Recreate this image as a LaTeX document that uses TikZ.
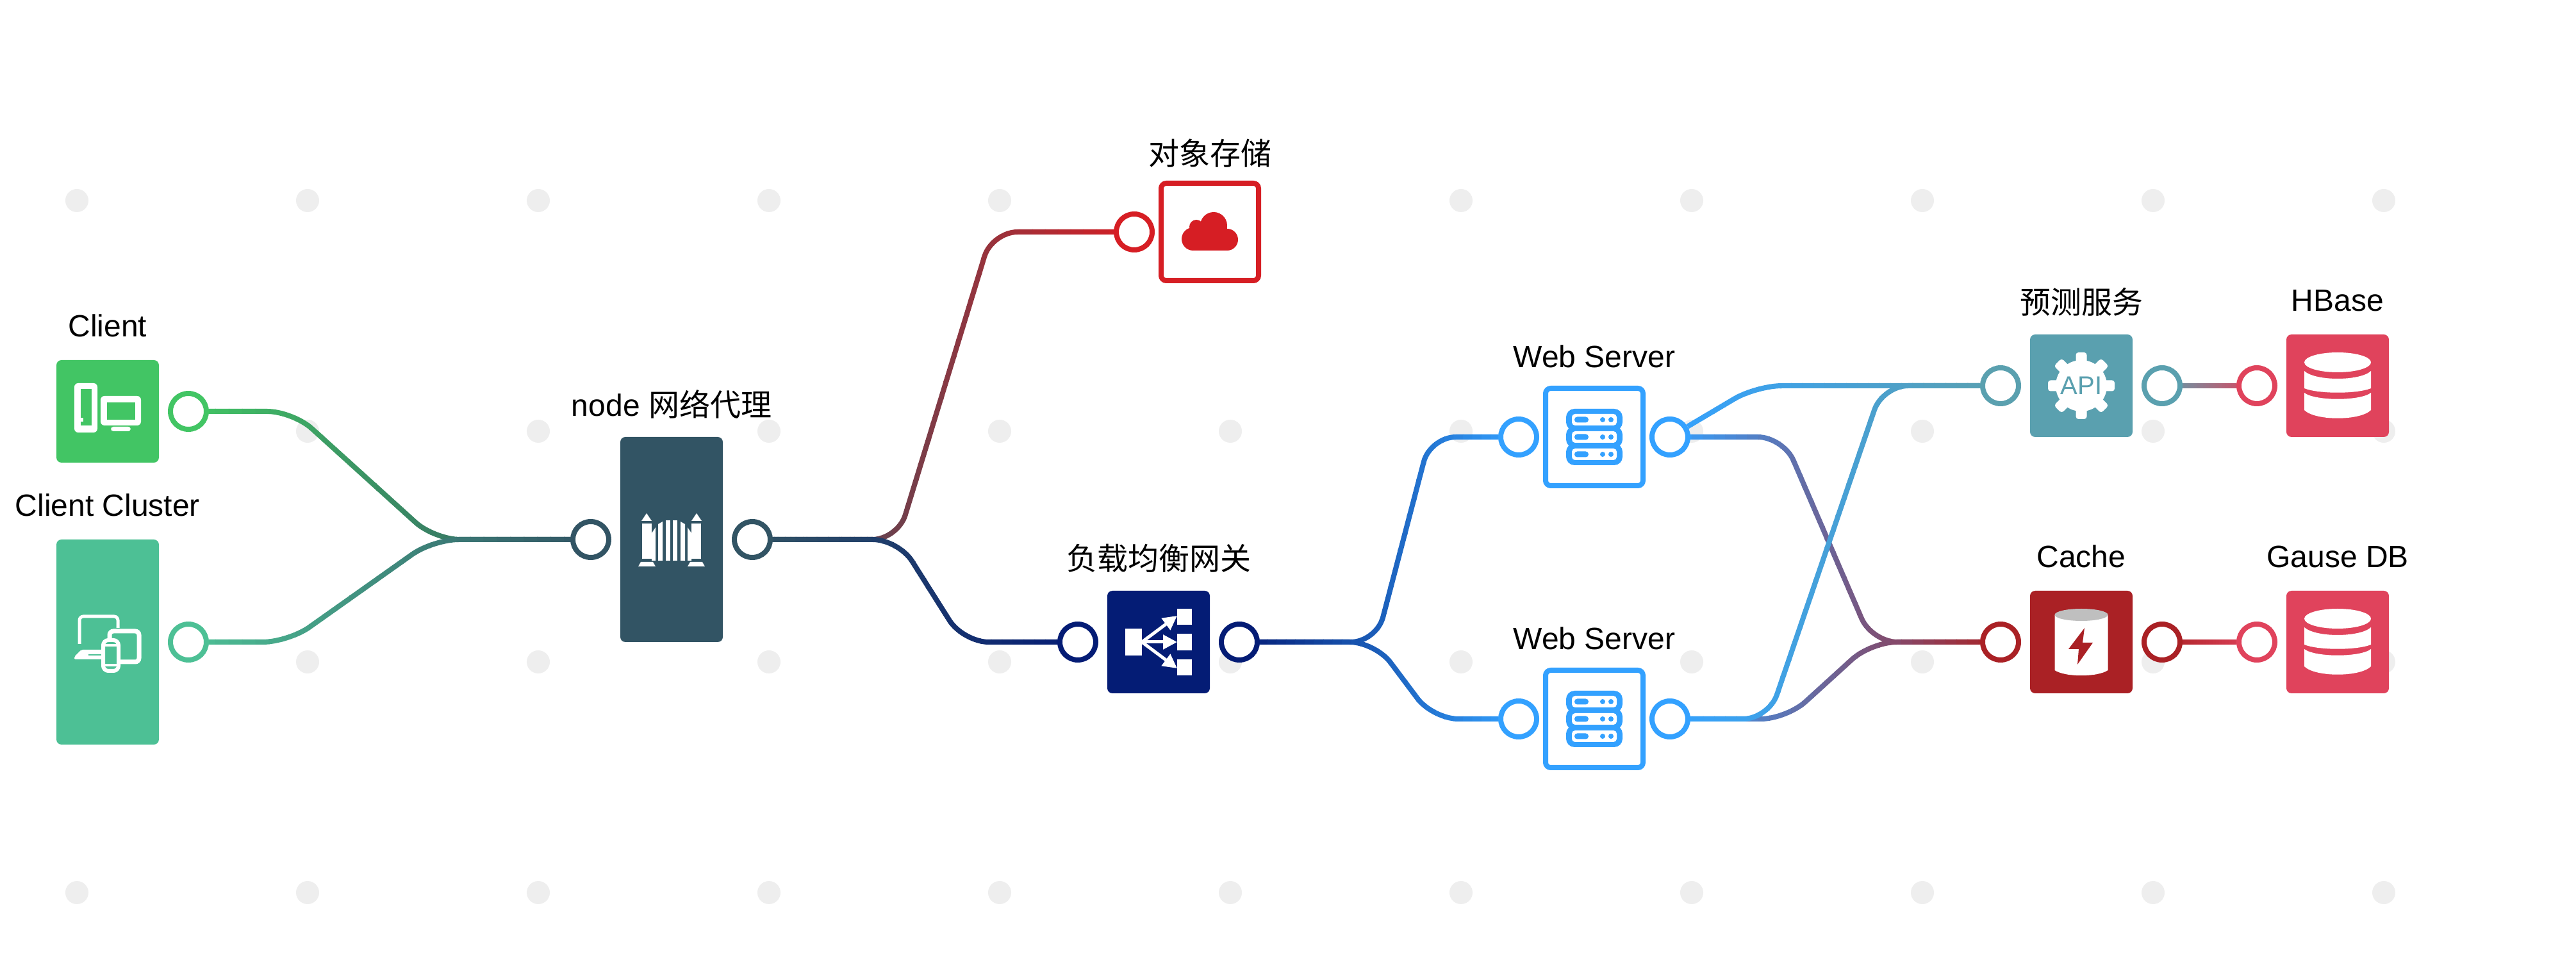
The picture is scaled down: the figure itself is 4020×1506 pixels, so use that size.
\documentclass[tikz,border=0pt]{standalone}
\usepackage{fontspec}
\setmainfont{Liberation Sans}
\newfontfamily\cjk{Noto Sans CJK SC}
\usetikzlibrary{arrows.meta}

\definecolor{clientgreen}{HTML}{42C564}
\definecolor{clustergreen}{HTML}{4DC095}
\definecolor{proxyslate}{HTML}{325464}
\definecolor{gatenavy}{HTML}{041C75}
\definecolor{storered}{HTML}{D61E24}
\definecolor{webblue}{HTML}{33A1FF}
\definecolor{apiteal}{HTML}{5AA0AF}
\definecolor{cachered}{HTML}{AA2125}
\definecolor{dbrose}{HTML}{E0435C}
\definecolor{dotgray}{HTML}{EEEEEE}

\tikzset{node distance=31.5pt, % Box centre to its port
solidbox/.style={ % Filled box
rectangle, rounded corners=2pt, fill=#1,
minimum width=40pt, minimum height=40pt,
inner sep=0pt, outer sep=0pt},
linebox/.style={ % Outlined box
rectangle, rounded corners=2pt, draw=#1, fill=white, line width=2pt,
minimum width=38pt, minimum height=38pt,
inner sep=0pt},
port/.style={
circle, draw=#1, fill=white, line width=2pt,
minimum size=14pt, inner sep=0pt},
lineport/.style={ % Ports of an outlined box sit closer
port=#1, node distance=29.5pt},
nametext/.style={
font=\fontsize{12}{14}\selectfont, inner sep=0pt, text depth=0pt, yshift=9pt},
cjkname/.style={
nametext, yshift=-1pt},
linename/.style={
nametext, yshift=-2pt},
linecjkname/.style={
nametext, yshift=-3pt},
linkline/.style={
line width=2pt, rounded corners=10pt},
clienticon/.pic={
    \fill[white, rounded corners=1.5pt] (-52,-44) rectangle (-16,33);
    \fill[clientgreen] (-42,-35) rectangle (-25,22);
    \fill[white] (-42,10) rectangle (-38,16);
    \fill[white, rounded corners=1.5pt] (-11,-24) rectangle (52,22);
    \fill[clientgreen] (-1,-14) rectangle (43,13);
    \fill[white, rounded corners=1pt] (5,24) rectangle (36,31);
},
clustericon/.pic={
    \draw[white, line width=1.25pt, rounded corners=1.5pt] (-44,3) -- (-44,-40) -- (16,-40) -- (16,-22);
    \fill[white, rounded corners=.5pt] (-52,27) -- (-52,23) -- (-41,12) -- (-8,12) -- (-8,27) -- cycle;
    \fill[clustergreen] (-30,19) rectangle (-8,21);
    \draw[white, fill=clustergreen, line width=1.75pt, rounded corners=1.5pt] (3,-17) rectangle (49,31);
    \draw[white, fill=clustergreen, line width=1.5pt, rounded corners=2pt] (-7,-3) rectangle (17,45);
    \draw[white, line width=1pt] (-7,5) -- (17,5) (-7,36) -- (17,36);
},
gateicon/.pic={
    \foreach \side in {1,-1}{
        \fill[white] (\side*31,-25) rectangle (\side*46,30);
        \fill[white] (\side*39,-41) -- (\side*47,-29) -- (\side*31,-29) -- cycle;
        \fill[white] (\side*52,42) -- (\side*25,42) -- (\side*29,35) -- (\side*48,35) -- cycle;
        \fill[white] (\side*31,-10) -- (\side*25,-19) -- (\side*25,33) -- (\side*31,33) -- cycle;
        \fill[white] (\side*21,-24) -- (\side*14,-28) -- (\side*14,33) -- (\side*21,33) -- cycle;
        \fill[white] (\side*9,-30) -- (\side*2,-30) -- (\side*2,33) -- (\side*9,33) -- cycle;
    }
},
balanceicon/.pic={
    \fill[white] (-52,-21) rectangle (-26,21);
    \fill[white] (29,-52) rectangle (52,-27);
    \fill[white] (29,-13) rectangle (52,13);
    \fill[white] (29,27) rectangle (52,52);
    \foreach \ty in {-41,0,41}{
        \draw[white, line width=1.25pt, -{Triangle[length=5.5pt,width=5.5pt]}] (-26,0) -- (29,\ty);
    }
},
cloudicon/.pic={
    \fill[storered] (6,-10) circle [radius=21];
    \fill[storered] (-21,-8) circle [radius=11];
    \fill[storered] (-26,11) circle [radius=18];
    \fill[storered] (27,12) circle [radius=17];
    \fill[storered] (-26,-7) rectangle (27,29);
},
servericon/.pic={
    \foreach \sy in {-27,0,27}{
        \fill[webblue, rounded corners=3.25pt] (-44,\sy-17) rectangle (44,\sy+17);
        \fill[white, rounded corners=1.25pt] (-35,\sy-9) rectangle (35,\sy+9);
        \fill[webblue, rounded corners=1.1pt] (-31,\sy-4.5) rectangle (-9,\sy+4.5);
        \fill[webblue] (13,\sy) circle [radius=4];
        \fill[webblue] (26,\sy) circle [radius=4];
    }
},
apiicon/.pic={
    \fill[white] (0,0) circle [radius=40];
    \foreach \tooth in {0,45,...,315}{
        \fill[white, rounded corners=1pt, rotate=\tooth] (-8.5,-52) rectangle (8.5,-30);
    }
    \node[font=\fontsize{10}{12}\selectfont, text=apiteal, inner sep=0pt] (apitext) {API};
},
cacheicon/.pic={
    \fill[white] (-41.5,-42) -- (-41.5,44) .. controls (-25,55) and (25,55) .. (41.5,44) -- (41.5,-42) -- cycle;
    \fill[black!25] (0,-42.5) ellipse [x radius=41.5, y radius=9.5];
    \fill[cachered] (5,-22) -- (2,1) -- (18,1) -- (-6,35) -- (-4,11) -- (-20,11) -- cycle;
},
dbicon/.pic={
    \fill[white] (0,-36.5) ellipse [x radius=52, y radius=15.5];
    \fill[white] (-52,-23) .. controls (-35,-7) and (35,-7) .. (52,-23) -- (52,4) .. controls (30,13) and (-30,13) .. (-52,4) -- cycle;
    \fill[white] (-52,11) .. controls (-35,24) and (35,24) .. (52,11) -- (52,38) .. controls (35,55) and (-35,55) .. (-52,38) -- cycle;
}}

% Link drawn in vertical strips so its colour runs from #1 at x=#3 to #2 at x=#4
\newcommand{\gradlink}[5]{
    \pgfmathsetmacro\stripw{(#4-#3)/30}
    \foreach \i in {0,...,29}{
        \pgfmathsetmacro\stripx{#3+\i*\stripw}
        \pgfmathsetmacro\stripmix{100-(\i+.5)*100/30}
        \colorlet{stripcol}{#1!\stripmix!#2}
        \begin{scope}
            \clip (\stripx,0) rectangle (\stripx+\stripw+1,1506);
            \draw[linkline, stripcol] #5;
        \end{scope}
    }
}

\begin{document}
\begin{tikzpicture}[x=0.25pt, y=-0.25pt]

    \path[use as bounding box, fill=white] (0,0) rectangle (4020,1506);

    \foreach \gx in {120,480,...,3720}{
        \foreach \gy in {313,673,1033,1393}{
            \fill[dotgray] (\gx,\gy) circle [radius=18];
        }
    }

    \node[solidbox=clientgreen, label={[nametext]above:Client}] (client) at (168,642) {};
    \node[solidbox=clustergreen, minimum height=80pt, label={[nametext]above:Client Cluster}] (cluster) at (168,1002) {};
    \node[solidbox=proxyslate, minimum height=80pt, label={[cjkname]above:node {\cjk 网络代理}}] (proxy) at (1048,842) {};
    \node[linebox=storered, label={[linecjkname]above:{\cjk 对象存储}}] (store) at (1888,362) {};
    \node[solidbox=gatenavy, label={[cjkname]above:{\cjk 负载均衡网关}}] (balance) at (1808,1002) {};
    \node[linebox=webblue, label={[linename]above:Web Server}] (webone) at (2488,682) {};
    \node[linebox=webblue, label={[linename]above:Web Server}] (webtwo) at (2488,1122) {};
    \node[solidbox=apiteal, label={[cjkname]above:{\cjk 预测服务}}] (predict) at (3248,602) {};
    \node[solidbox=cachered, label={[nametext]above:Cache}] (cache) at (3248,1002) {};
    \node[solidbox=dbrose, label={[nametext]above:HBase}] (hbase) at (3648,602) {};
    \node[solidbox=dbrose, label={[nametext]above:Gause DB}] (gause) at (3648,1002) {};

    \node[port=clientgreen, right of=client] (clientout) {};
    \node[port=clustergreen, right of=cluster] (clusterout) {};
    \node[port=proxyslate, left of=proxy] (proxyin) {};
    \node[port=proxyslate, right of=proxy] (proxyout) {};
    \node[lineport=storered, left of=store] (storein) {};
    \node[port=gatenavy, left of=balance] (balancein) {};
    \node[port=gatenavy, right of=balance] (balanceout) {};
    \node[lineport=webblue, left of=webone] (weboneIn) {};
    \node[lineport=webblue, right of=webone] (weboneOut) {};
    \node[lineport=webblue, left of=webtwo] (webtwoIn) {};
    \node[lineport=webblue, right of=webtwo] (webtwoOut) {};
    \node[port=apiteal, left of=predict] (predictin) {};
    \node[port=apiteal, right of=predict] (predictout) {};
    \node[port=cachered, left of=cache] (cachein) {};
    \node[port=cachered, right of=cache] (cacheout) {};
    \node[port=dbrose, left of=hbase] (hbasein) {};
    \node[port=dbrose, left of=gause] (gausein) {};

    \pic at (client) {clienticon};
    \pic at (cluster) {clustericon};
    \pic at (proxy) {gateicon};
    \pic at (store) {cloudicon};
    \pic at (balance) {balanceicon};
    \pic at (webone) {servericon};
    \pic at (webtwo) {servericon};
    \pic at (predict) {apiicon};
    \pic at (cache) {cacheicon};
    \pic at (hbase) {dbicon};
    \pic at (gause) {dbicon};

    \gradlink{clientgreen}{proxyslate}{294}{922}{(clientout) -- (457,642) -- (678,842) -- (proxyin)}
    \gradlink{clustergreen}{proxyslate}{294}{922}{(clusterout) -- (450,1002) -- (676,842) -- (proxyin)}

    \gradlink{proxyslate}{storered}{1174}{1770}{(proxyout) -- (1401,842) -- (1548,362) -- (storein)}
    \gradlink{proxyslate}{gatenavy}{1174}{1682}{(proxyout) -- (1402,842) -- (1503,1002) -- (balancein)}

    \gradlink{gatenavy}{webblue}{1934}{2370}{(balanceout) -- (2148,1002) -- (2232,682) -- (weboneIn)}
    \gradlink{gatenavy}{webblue}{1934}{2370}{(balanceout) -- (2146,1002) -- (2236,1122) -- (webtwoIn)}

    \gradlink{webblue}{cachered}{2606}{3122}{(weboneOut) -- (2783,682) -- (2921,1002) -- (cachein)}
    \gradlink{webblue}{cachered}{2606}{3122}{(webtwoOut) -- (2788,1122) -- (2920,1002) -- (cachein)}
    \gradlink{webblue}{apiteal}{2606}{3122}{(weboneOut) -- (2741,602) -- (predictin)}
    \gradlink{webblue}{apiteal}{2606}{3122}{(webtwoOut) -- (2760,1122) -- (2938,602) -- (predictin)}

    \gradlink{apiteal}{dbrose}{3374}{3522}{(predictout) -- (hbasein)}
    \gradlink{cachered}{dbrose}{3374}{3522}{(cacheout) -- (gausein)}

\end{tikzpicture}
\end{document}
